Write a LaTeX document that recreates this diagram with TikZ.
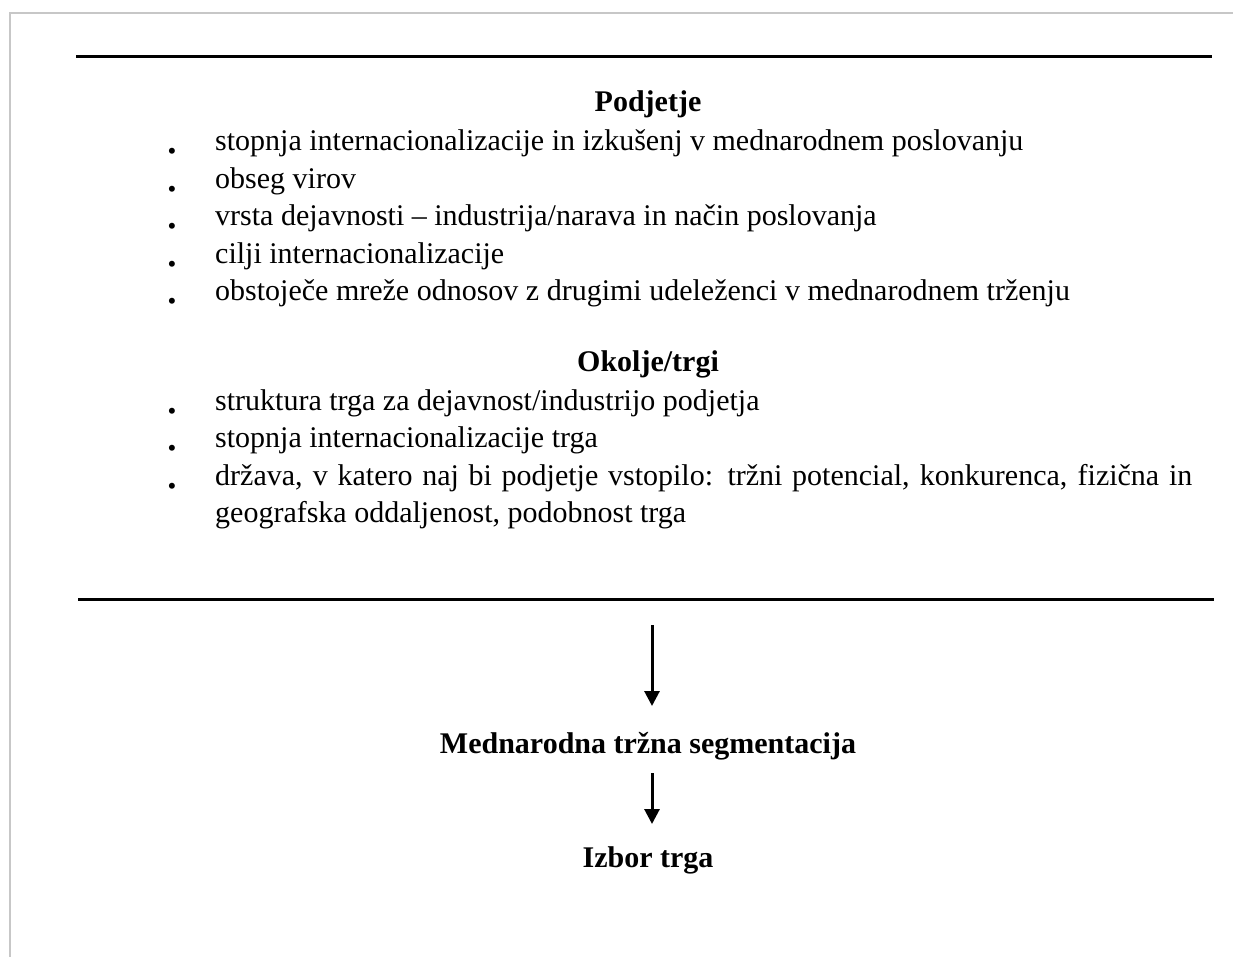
\documentclass[tikz,border=0pt]{standalone}
\usepackage{fontspec}
\setmainfont{Liberation Serif}
\usetikzlibrary{arrows.meta}
\begin{document}
\begin{tikzpicture}[x=1pt,y=-1pt,
  txt/.style={inner sep=0pt, anchor=base west, font=\fontsize{30}{36}\selectfont},
  head/.style={inner sep=0pt, anchor=base, font=\fontsize{30}{36}\selectfont\bfseries},
  dot/.style={inner sep=0pt, anchor=base, font=\fontsize{25}{28}\selectfont},
  rule/.style={line width=3pt},
  frame/.style={draw=black!22, line width=2pt},
  flow/.style={line width=3pt, -{Triangle[width=15pt,length=15pt]}}]
\useasboundingbox (0,0) rectangle (1233,957);
% page frame (top and left edges)
\draw[frame] (1233,13) -- (10,13) -- (10,957);
% horizontal rules around the factor box
\coordinate (r1a) at (76,57);  \coordinate (r1b) at (1212,57);
\coordinate (r2a) at (78,599); \coordinate (r2b) at (1214,599);
\draw[rule] (r1a) -- (r1b);
\draw[rule] (r2a) -- (r2b);

% company factors
\node[head] (hp) at (648,112) {Podjetje};
\foreach \y/\t [count=\i] in {151/{stopnja internacionalizacije in izkušenj v mednarodnem poslovanju},
  188.5/{obseg virov},
  226/{vrsta dejavnosti – industrija/narava in način poslovanja},
  263.5/{cilji internacionalizacije},
  301/{obstoječe mreže odnosov z drugimi udeleženci v mednarodnem trženju}}{
  \node[dot] (bp\i) at (172,\y) {\raisebox{-9pt}{•}};
  \node[txt] (p\i) at (215,\y) {\t};
}

% environment / market factors
\node[head] (ho) at (648,371) {Okolje/trgi};
\node[dot] (bo1) at (172,410) {\raisebox{-9pt}{•}};
\node[txt] (o1) at (215,410) {struktura trga za dejavnost/industrijo podjetja};
\node[dot] (bo2) at (172,447.5) {\raisebox{-9pt}{•}};
\node[txt] (o2) at (215,447.5) {stopnja internacionalizacije trga};
\node[dot] (bo3) at (172,485) {\raisebox{-9pt}{•}};
\node[txt] (o3) at (215,485) {\makebox[977pt][s]{država, v katero naj bi podjetje vstopilo: tržni potencial, konkurenca, fizična in}};
\node[txt] (o3b) at (215,522.5) {geografska oddaljenost, podobnost trga};

% flow below the box
\node[head] (seg) at (648,753) {Mednarodna tržna segmentacija};
\node[head] (izb) at (648,867) {Izbor trga};
\coordinate (a1s) at (652,625); \coordinate (a1e) at (652,706);
\coordinate (a2s) at (652,773); \coordinate (a2e) at (652,824);
\draw[flow] (a1s) -- (a1e);
\draw[flow] (a2s) -- (a2e);
\end{tikzpicture}
\end{document}
